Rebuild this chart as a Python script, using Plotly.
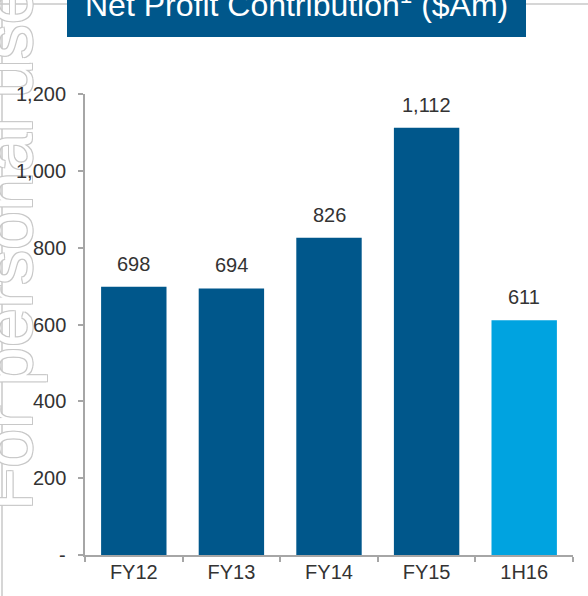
import plotly.graph_objects as go

categories = ["FY12", "FY13", "FY14", "FY15", "1H16"]
values = [698, 694, 826, 1112, 611]
bar_colors = ["#00578B", "#00578B", "#00578B", "#00578B", "#00A3E0"]
value_labels = ["698", "694", "826", "1,112", "611"]
y_tickvals = [0, 200, 400, 600, 800, 1000, 1200]
y_ticktext = ["-", "200", "400", "600", "800", "1,000", "1,200"]

W, H = 588, 596
ML, MR, MT, MB = 85, 15, 94, 41
FONT = "Liberation Sans, Arial, sans-serif"
DARK = "#00578B"
TXT = "#333333"

def px2x(px):
    return (px - ML) / (W - ML - MR)

def py2y(py):
    return (H - MB - py) / (H - MT - MB)

fig = go.Figure()
fig.add_trace(go.Bar(x=categories, y=values, marker=dict(color=bar_colors, line=dict(width=0)),
                     hoverinfo="skip"))

# value labels above bars
for c, v, t in zip(categories, values, value_labels):
    fig.add_annotation(x=c, y=v, text=t, showarrow=False, yanchor="bottom", yshift=10,
                       font=dict(family=FONT, size=20, color=TXT))

# thin grey frame lines of the slide
fig.add_shape(type="line", xref="paper", yref="paper", x0=px2x(-5), x1=px2x(600),
              y0=py2y(4), y1=py2y(4), line=dict(color="#c8c8c8", width=1.5), layer="below")
fig.add_shape(type="line", xref="paper", yref="paper", x0=px2x(2), x1=px2x(2),
              y0=py2y(-5), y1=py2y(600), line=dict(color="#c8c8c8", width=1.5), layer="below")

# watermark (outlined text)
fig.add_annotation(xref="paper", yref="paper", x=px2x(48), y=py2y(513), xanchor="right",
                   yanchor="bottom", textangle=-90, showarrow=False, text="For personal use only",
                   font=dict(family=FONT, size=70, color="white",
                             shadow="1px 1px 0 #c8c8c8, -1px -1px 0 #c8c8c8, 1px -1px 0 #c8c8c8, -1px 1px 0 #c8c8c8"))

# y tick labels drawn after the watermark so they stay on top of it
for v, t in zip(y_tickvals, y_ticktext):
    fig.add_annotation(xref="paper", yref="y", x=px2x(68), y=v, xanchor="right",
                       yanchor="middle", showarrow=False, text=t,
                       font=dict(family=FONT, size=20, color=TXT))

# title box
fig.add_shape(type="rect", xref="paper", yref="paper", x0=px2x(67), x1=px2x(526),
              y0=py2y(-10), y1=py2y(37), fillcolor=DARK, line=dict(width=0))
fig.add_annotation(xref="paper", yref="paper", x=px2x(296), y=py2y(3), xanchor="center",
                   yanchor="middle", showarrow=False,
                   text="Net Profit Contribution<sup>1</sup> ($Am)",
                   font=dict(family=FONT, size=32, color="white"))

fig.update_layout(
    width=W, height=H,
    margin=dict(l=ML, r=MR, t=MT, b=MB),
    plot_bgcolor="white", paper_bgcolor="white",
    showlegend=False,
    bargap=0.33,
    font=dict(family=FONT, size=20, color=TXT),
    xaxis=dict(showline=True, linecolor="#a6a6a6", linewidth=1.5, ticks="outside",
               tickson="boundaries", ticklen=5, tickcolor="#a6a6a6", tickwidth=1.5,
               ticklabelstandoff=-2,
               showgrid=False, zeroline=False, tickfont=dict(size=20, color=TXT)),
    yaxis=dict(range=[0, 1200], showline=True, linecolor="#a6a6a6", linewidth=1.5,
               ticks="outside", ticklen=5, tickcolor="#a6a6a6", tickwidth=1.5,
               tickvals=y_tickvals, showticklabels=False,
               showgrid=False, zeroline=False),
)

fig.write_html("out.html", config={"displayModeBar": False},
               post_script="document.body.style.margin='0';")
